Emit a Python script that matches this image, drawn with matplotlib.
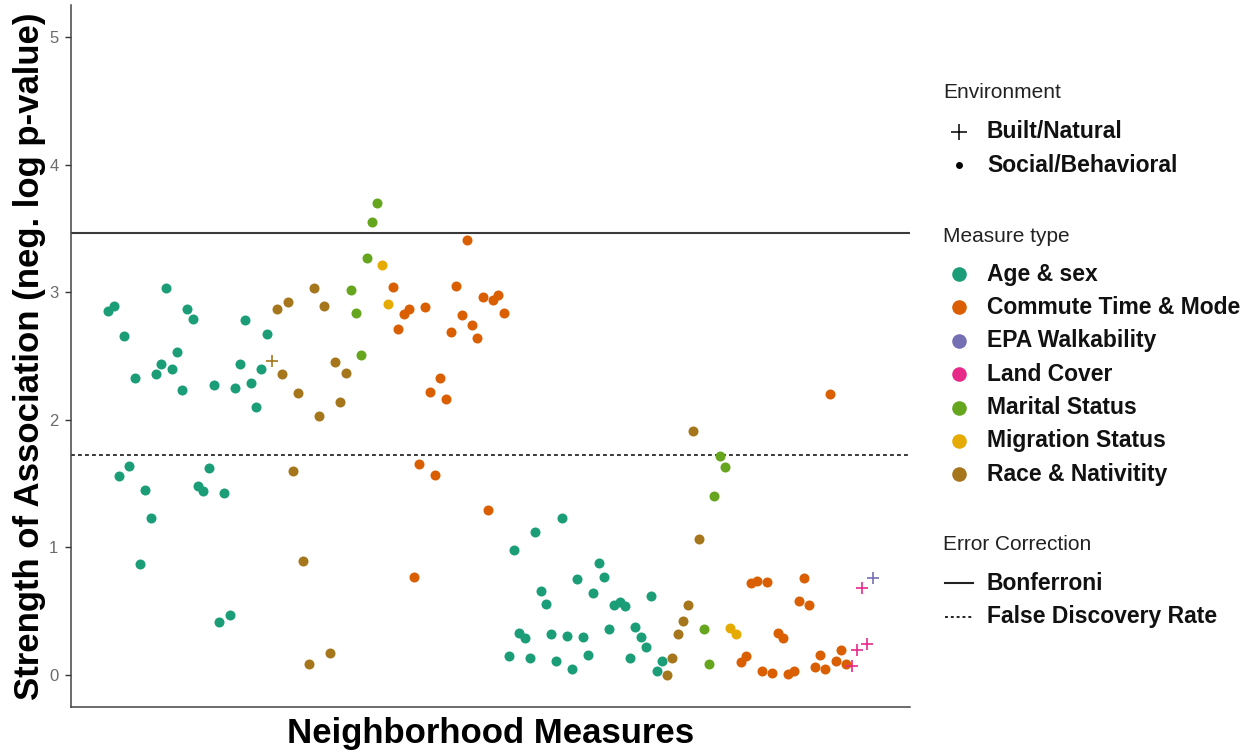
import numpy as np
import matplotlib
matplotlib.use("Agg")
import matplotlib.pyplot as plt
from matplotlib.lines import Line2D

plt.rcParams['font.family'] = ['Liberation Sans', 'DejaVu Sans']

# ---------------- data ----------------
# measure type for each neighborhood measure, in plotting order
A, C, E, L, M, G, R = ("Age & sex", "Commute Time & Mode", "EPA Walkability",
                       "Land Cover", "Marital Status", "Migration Status",
                       "Race & Nativitity")
measure_type = ([A] * 31 + [R] * 15 + [M] * 6 + [G] * 2 + [C] * 22 +
                [A] * 30 + [R] * 7 + [M] * 5 + [G] * 2 + [C] * 21 + [L] * 4 + [E] * 1)

# environment type ("B" = Built/Natural, "S" = Social/Behavioral)
environment = (["S"] * 31 + ["B"] + ["S"] * 14 + ["S"] * (6 + 2 + 22 + 30 + 7 + 5 + 2 + 21) +
               ["B"] * 5)

neg_log_p = [
    # Age & sex (block 1)
    2.85, 2.89, 1.56, 2.66, 1.64, 2.33, 0.87, 1.45, 1.23, 2.36,
    2.44, 3.03, 2.40, 2.53, 2.23, 2.87, 2.79, 1.48, 1.44, 1.62,
    2.27, 0.415, 1.43, 0.47, 2.25, 2.44, 2.78, 2.29, 2.10, 2.40, 2.67,
    # Race & Nativity (block 1)
    2.46, 2.87, 2.36, 2.92, 1.60, 2.21, 0.89, 0.09, 3.03, 2.03,
    2.89, 0.17, 2.45, 2.14, 2.37,
    # Marital status
    3.02, 2.84, 2.51, 3.27, 3.55, 3.70,
    # Migration status
    3.21, 2.91,
    # Commute time & mode
    3.04, 2.71, 2.83, 2.87, 0.77, 1.65, 2.88, 2.22, 1.57, 2.33,
    2.16, 2.69, 3.05, 2.82, 3.41, 2.74, 2.64, 2.96, 1.29, 2.94, 2.98, 2.84,
    # Age & sex (block 2)
    0.15, 0.98, 0.33, 0.29, 0.13, 1.12, 0.66, 0.56, 0.32, 0.11,
    1.23, 0.31, 0.05, 0.75, 0.30, 0.16, 0.64, 0.88, 0.77, 0.36,
    0.55, 0.57, 0.54, 0.13, 0.38, 0.30, 0.22, 0.62, 0.03, 0.11,
    # Race & Nativity (block 2)
    0.00, 0.13, 0.32, 0.42, 0.55, 1.91, 1.07,
    # Marital status
    0.36, 0.09, 1.40, 1.72, 1.63,
    # Migration status
    0.37, 0.32,
    # Commute time & mode
    0.10, 0.15, 0.72, 0.74, 0.03, 0.73, 0.02, 0.33, 0.29, 0.01,
    0.03, 0.58, 0.76, 0.55, 0.06, 0.16, 0.05, 2.20, 0.11, 0.20, 0.09,
    # Land cover
    0.07, 0.20, 0.68, 0.24,
    # EPA walkability
    0.76,
]

type_order = [A, C, E, L, M, G, R]
type_colors = ["#1B9E77", "#D95F02", "#7570B3", "#E7298A", "#66A61E", "#E6AB02", "#A6761D"]
env_labels = ["Built/Natural", "Social/Behavioral"]
env_codes = ["B", "S"]

thresholds = [3.46, 1.724]
threshold_labels = ["Bonferroni", "False Discovery Rate"]
y_ticks = [0, 1, 2, 3, 4, 5]

# ---------------- figure ----------------
W, H = 1255, 755
fig = plt.figure(figsize=(W / 100, H / 100), dpi=100)
ax_l, ax_r, ax_t, ax_b = 71, 910, 5, 707
ax = fig.add_axes([ax_l / W, 1 - ax_b / H, (ax_r - ax_l) / W, (ax_b - ax_t) / H])

x = np.arange(len(neg_log_p))
y = np.array(neg_log_p)
mt = np.array(measure_type)
env = np.array(environment)
cmap = dict(zip(type_order, type_colors))

for t in type_order:
    for code in env_codes:
        sel = (mt == t) & (env == code)
        if not sel.any():
            continue
        if code == "S":
            ax.scatter(x[sel], y[sel], s=52, marker="o", color=cmap[t],
                       linewidths=0, zorder=3)
        else:
            ax.scatter(x[sel], y[sel], s=80, marker="+", color=cmap[t],
                       linewidths=1.2, zorder=3)

ax.axhline(thresholds[0], color="#3a3a3a", lw=1.5, zorder=2)
ax.axhline(thresholds[1], color="#3a3a3a", lw=1.4, dashes=(2, 1.6), zorder=2)

ax.set_xlim(-7.1, 152.1)
ax.set_ylim(-0.25, 5.25)
ax.set_xticks([])
ax.set_yticks(y_ticks)
ax.tick_params(axis="y", length=4, width=1, color="#333333", pad=5,
               labelsize=12, labelcolor="#6b6b6b")
for s in ["top", "right"]:
    ax.spines[s].set_visible(False)
for s in ["left", "bottom"]:
    ax.spines[s].set_color("#444444")
    ax.spines[s].set_linewidth(1.1)

ax.set_ylabel("Strength of Association (neg. log p-value)", fontsize=25,
              fontweight="bold")
ax.yaxis.set_label_coords((30 - ax_l) / (ax_r - ax_l), 0.5)
ax.yaxis.label.set_va("center")
ax.set_xlabel("Neighborhood Measures", fontsize=25, fontweight="bold")
ax.xaxis.set_label_coords(0.5, -(733 - ax_b) / (ax_b - ax_t))
ax.xaxis.label.set_va("center")

# ---------------- legends ----------------
def fx(px):
    return px / W

def fy(py):
    return 1 - py / H

title_kw = dict(fontsize=15, color="#222222", va="center", ha="left")
item_kw = dict(fontsize=16.5, fontweight="bold", color="#111111", va="center", ha="left")
mx, tx = 959, 987

fig.text(fx(943), fy(93), "Environment", **title_kw)
env_y = [131.5, 165]
for lab, code, yy in zip(env_labels, env_codes, env_y):
    if code == "B":
        fig.add_artist(Line2D([fx(mx)], [fy(yy)], marker="+", markersize=11,
                              markeredgewidth=1.1, color="black",
                              transform=fig.transFigure))
    else:
        fig.add_artist(Line2D([fx(mx)], [fy(yy)], marker="o", markersize=5,
                              markeredgewidth=0, color="black",
                              transform=fig.transFigure))
    fig.text(fx(tx), fy(yy), lab, **item_kw)

fig.text(fx(943), fy(236), "Measure type", **title_kw)
for i, (lab, col) in enumerate(zip(type_order, type_colors)):
    yy = 274 + i * 33.4
    fig.add_artist(Line2D([fx(mx)], [fy(yy)], marker="o", markersize=10.5,
                          markeredgewidth=0, color=col,
                          transform=fig.transFigure))
    fig.text(fx(tx), fy(yy), lab, **item_kw)

fig.text(fx(943), fy(545), "Error Correction", **title_kw)
styles = [dict(ls="-", lw=1.5), dict(lw=1.4, dashes=(1.5, 1.5))]
for i, (lab, st) in enumerate(zip(threshold_labels, styles)):
    yy = 583 + i * 33.5
    fig.add_artist(Line2D([fx(945), fx(973)], [fy(yy), fy(yy)], color="#222222",
                          transform=fig.transFigure, **st))
    fig.text(fx(tx), fy(yy), lab, **item_kw)

fig.savefig("out.png", dpi=100, facecolor="white")
